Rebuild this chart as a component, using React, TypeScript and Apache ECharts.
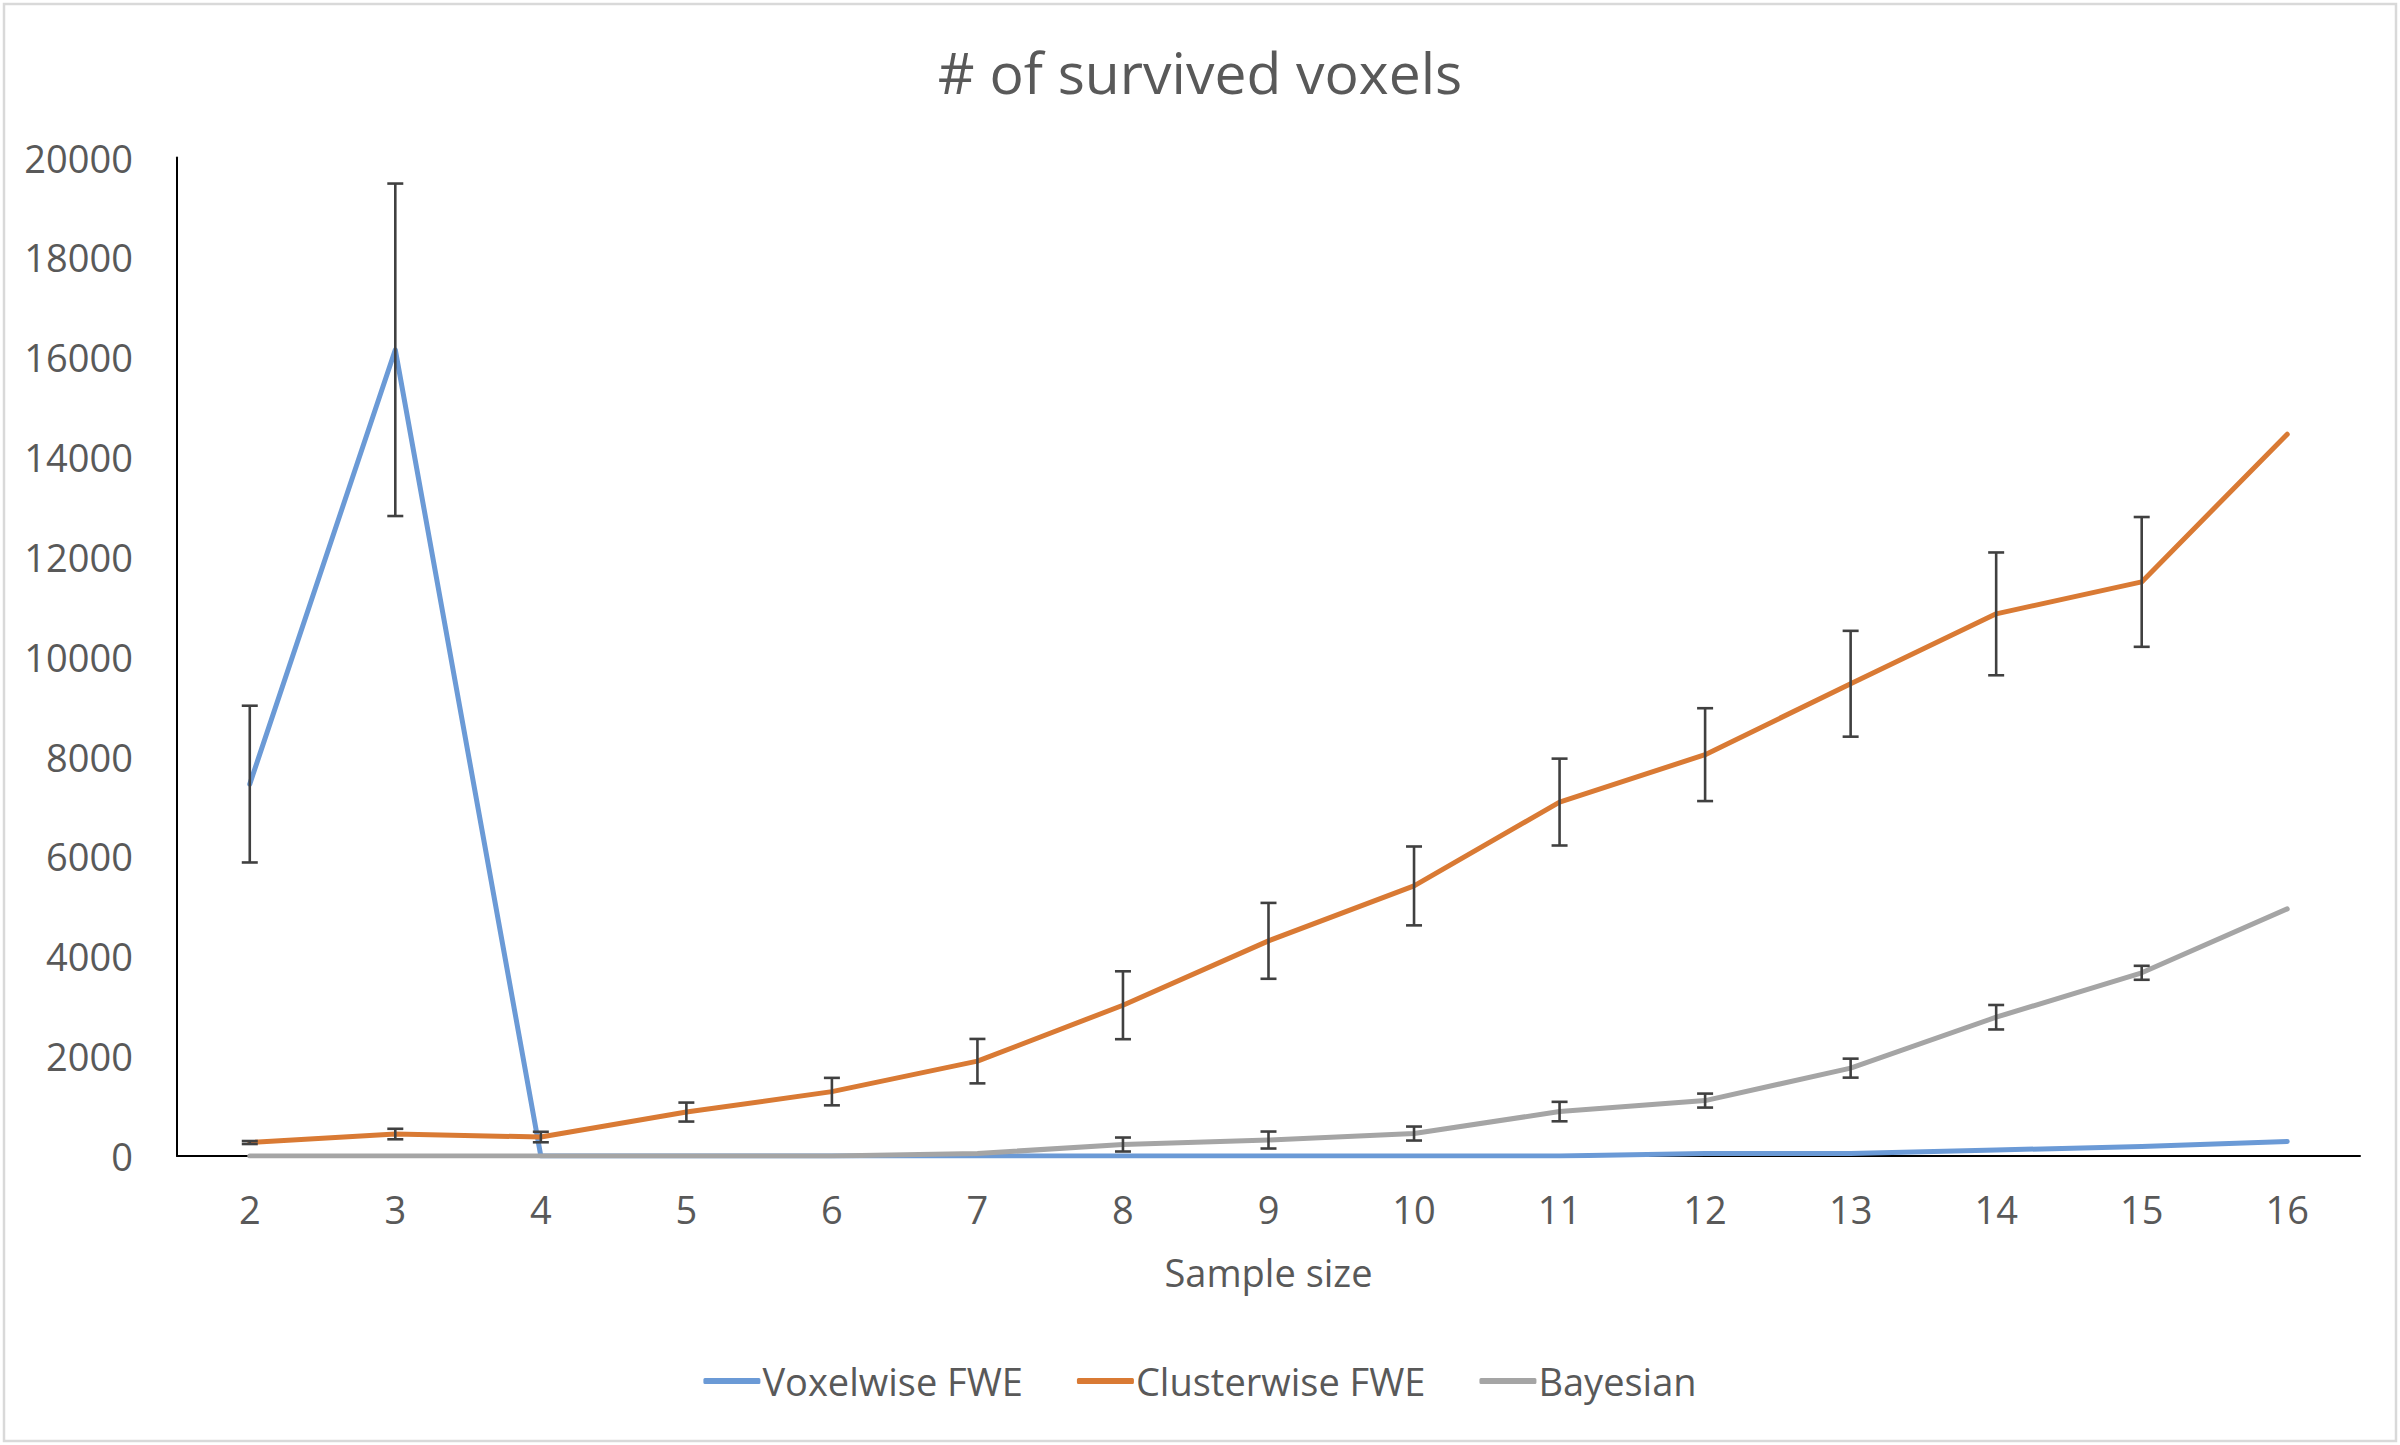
import React, { useEffect, useRef } from "react";
import * as echarts from "echarts";

const categories = ["2", "3", "4", "5", "6", "7", "8", "9", "10", "11", "12", "13", "14", "15", "16"];
const voxelwise = [7450, 16150, 0, 0, 0, 0, 0, 0, 0, 0, 50, 50, 120, 190, 290];
const voxelwiseErr = [1570, 3330, 0, 0, 0, 0, 0, 0, 0, 0, 0, 0, 0, 0, 0];
const clusterwise = [270, 440, 380, 880, 1290, 1900, 3020, 4310, 5410, 7090, 8040, 9460, 10860, 11500, 14460];
const clusterwiseErr = [30, 105, 105, 190, 275, 445, 680, 760, 790, 870, 930, 1060, 1230, 1300, 0];
const bayesian = [0, 0, 0, 0, 0, 50, 230, 320, 450, 890, 1110, 1760, 2780, 3670, 4950];
const bayesianErr = [0, 0, 0, 0, 0, 0, 140, 170, 140, 195, 140, 190, 245, 140, 0];
const seriesNames = ["Voxelwise FWE", "Clusterwise FWE", "Bayesian"];

const FONT = "Open Sans";
const TEXT = "#595959";

function errData(vals: number[], errs: number[]) {
  const out: number[][] = [];
  vals.forEach((v, i) => {
    if (errs[i] > 0) out.push([i, v - errs[i], v + errs[i]]);
  });
  return out;
}

function errSeries(vals: number[], errs: number[]) {
  return {
    type: "custom",
    data: errData(vals, errs),
    encode: { x: 0, y: [1, 2] },
    z: 10,
    silent: true,
    renderItem: (params: any, api: any) => {
      const x = api.value(0);
      const lo = api.value(1);
      const hi = api.value(2);
      const p1 = api.coord([x, hi]);
      const p2 = api.coord([x, lo]);
      const w = 8;
      const st = { stroke: "#404040", lineWidth: 2.6 };
      return {
        type: "group",
        children: [
          { type: "line", shape: { x1: p1[0], y1: p1[1], x2: p2[0], y2: p2[1] }, style: st },
          { type: "line", shape: { x1: p1[0] - w, y1: p1[1], x2: p1[0] + w, y2: p1[1] }, style: st },
          { type: "line", shape: { x1: p2[0] - w, y1: p2[1], x2: p2[0] + w, y2: p2[1] }, style: st },
        ],
      };
    },
  };
}

export default function App() {
  const ref = useRef<HTMLDivElement>(null);
  useEffect(() => {
    document.body.style.margin = "0";
    const chart = echarts.init(ref.current!, null, { renderer: "svg" });
    const lineSeries = (name: string, data: number[], color: string, z: number) => ({
      name,
      type: "line",
      data,
      symbol: "none",
      z,
      lineStyle: { color, width: 5, cap: "round", join: "round" },
      itemStyle: { color },
    });
    chart.setOption({
      animation: false,
      backgroundColor: "#ffffff",
      title: {
        text: "# of survived voxels",
        left: "center",
        top: 38,
        textStyle: { fontFamily: FONT, fontSize: 57, fontWeight: "normal", color: TEXT },
      },
      legend: {
        data: seriesNames,
        bottom: 40,
        left: "center",
        icon: "roundRect",
        itemWidth: 57,
        itemHeight: 6,
        itemGap: 54,
        textStyle: { fontFamily: FONT, fontSize: 38, color: TEXT, padding: [0, 0, 0, -3] },
      },
      grid: { left: 177, right: 40, top: 157.6, bottom: 289, containLabel: false },
      xAxis: {
        type: "category",
        data: categories,
        boundaryGap: true,
        name: "Sample size",
        nameLocation: "middle",
        nameGap: 97,
        nameTextStyle: { fontFamily: FONT, fontSize: 38, color: TEXT },
        axisLine: { lineStyle: { color: "#000000", width: 2 } },
        axisTick: { show: false },
        axisLabel: { fontFamily: FONT, fontSize: 38, color: TEXT, margin: 34 },
      },
      yAxis: {
        type: "value",
        min: 0,
        max: 20000,
        interval: 2000,
        axisLine: { show: true, lineStyle: { color: "#000000", width: 2 } },
        axisTick: { show: false },
        splitLine: { show: false },
        axisLabel: {
          fontFamily: FONT,
          fontSize: 38,
          color: TEXT,
          margin: 44,
          formatter: (v: number) => String(v),
        },
      },
      graphic: [
        {
          type: "rect",
          shape: { x: 4, y: 4, width: 2392, height: 1437 },
          style: { fill: "none", stroke: "#D9D9D9", lineWidth: 2.5 },
          silent: true,
        },
      ],
      series: [
        lineSeries(seriesNames[0], voxelwise, "#6B9AD6", 3),
        lineSeries(seriesNames[1], clusterwise, "#D97A34", 4),
        lineSeries(seriesNames[2], bayesian, "#A5A5A5", 5),
        errSeries(voxelwise, voxelwiseErr),
        errSeries(clusterwise, clusterwiseErr),
        errSeries(bayesian, bayesianErr),
      ],
    });
    return () => chart.dispose();
  }, []);
  return <div ref={ref} style={{ width: 2400, height: 1445 }} />;
}
